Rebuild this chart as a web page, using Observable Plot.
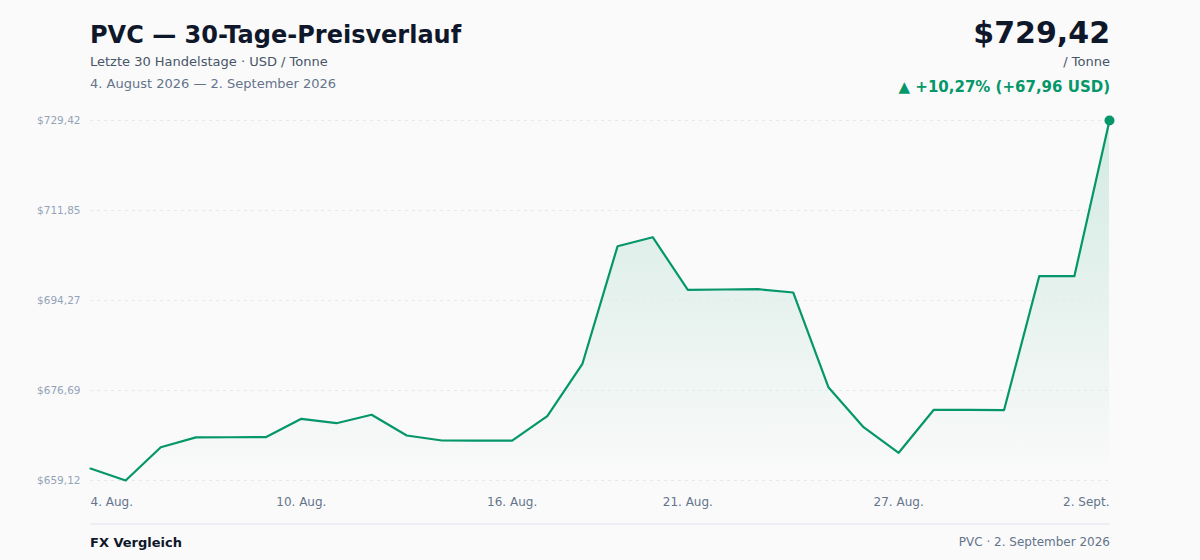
<!DOCTYPE html>
<html>
<head>
<meta charset="utf-8">
<script src="https://cdn.jsdelivr.net/npm/d3@7"></script>
<script src="https://cdn.jsdelivr.net/npm/@observablehq/plot@0.6"></script>
<style>
  html, body { margin: 0; padding: 0; background: #fafafa; }
  body { font-family: "DejaVu Sans", sans-serif; }
  #wrap { position: relative; width: 1200px; height: 560px; overflow: hidden; }
  .t { position: absolute; line-height: 1; white-space: nowrap; }
  #chart { position: absolute; left: 0; top: 100px; }
</style>
</head>
<body>
<div id="wrap">
  <div class="t" style="left:90px; top:22.7px; font-size:24px; font-weight:bold; color:#0f172a;">PVC — 30-Tage-Preisverlauf</div>
  <div class="t" style="left:90px; top:55px; font-size:13px; color:#475569;">Letzte 30 Handelstage · USD / Tonne</div>
  <div class="t" style="left:90px; top:77px; font-size:13px; color:#64748b;">4. August 2026 — 2. September 2026</div>
  <div class="t" style="right:90px; top:18px; font-size:30px; font-weight:bold; color:#0f172a;">$729,42</div>
  <div class="t" style="right:90px; top:55px; font-size:13px; color:#475569;">/ Tonne</div>
  <div class="t" style="right:90px; top:80px; font-size:15px; font-weight:bold; color:#059669;">▲ +10,27% (+67,96 USD)</div>
  <div id="chart"></div>
  <div style="position:absolute; left:90px; width:1020px; top:523px; height:2px; background:#eceef1;"></div>
  <div class="t" style="left:90px; top:535.5px; font-size:13px; font-weight:bold; color:#0f172a;">FX Vergleich</div>
  <div class="t" style="right:90px; top:536px; font-size:12px; color:#64748b;">PVC · 2. September 2026</div>
</div>
<script>
const dates = [
  "2026-08-04","2026-08-05","2026-08-06","2026-08-07","2026-08-08","2026-08-09",
  "2026-08-10","2026-08-11","2026-08-12","2026-08-13","2026-08-14","2026-08-15",
  "2026-08-16","2026-08-17","2026-08-18","2026-08-19","2026-08-20","2026-08-21",
  "2026-08-22","2026-08-23","2026-08-24","2026-08-25","2026-08-26","2026-08-27",
  "2026-08-28","2026-08-29","2026-08-30","2026-08-31","2026-09-01","2026-09-02"
];
const prices = [
  661.46, 659.12, 665.62, 667.55, 667.57, 667.60,
  671.17, 670.31, 671.95, 667.91, 666.93, 666.90,
  666.92, 671.71, 681.91, 704.87, 706.63, 696.36,
  696.42, 696.48, 695.83, 677.34, 669.53, 664.53,
  672.93, 672.93, 672.88, 699.02, 699.02, 729.42
];
const yTicks = [659.12, 676.69, 694.27, 711.85, 729.42];
const xTickDates = ["2026-08-04","2026-08-10","2026-08-16","2026-08-21","2026-08-27","2026-09-02"];
const xTickLabels = ["4. Aug.","10. Aug.","16. Aug.","21. Aug.","27. Aug.","2. Sept."];

const data = dates.map((d, i) => ({date: new Date(d), price: prices[i]}));
const xt = xTickDates.map((d, i) => ({date: new Date(d), label: xTickLabels[i]}));
const yMin = yTicks[0], yMax = yTicks[yTicks.length - 1];
const fmt = v => "$" + v.toFixed(2).replace(".", ",");
const green = "#059669";

const defs = () => {
  const ns = "http://www.w3.org/2000/svg";
  const d = document.createElementNS(ns, "defs");
  const g = document.createElementNS(ns, "linearGradient");
  g.setAttribute("id", "areaGrad");
  g.setAttribute("x1", "0"); g.setAttribute("y1", "0");
  g.setAttribute("x2", "0"); g.setAttribute("y2", "1");
  [["0%", 0.16], ["100%", 0.0]].forEach(([o, a]) => {
    const s = document.createElementNS(ns, "stop");
    s.setAttribute("offset", o);
    s.setAttribute("stop-color", green);
    s.setAttribute("stop-opacity", a);
    g.appendChild(s);
  });
  d.appendChild(g);
  return d;
};

const chart = Plot.plot({
  width: 1200,
  height: 420,
  marginTop: 20,
  marginBottom: 40,
  marginLeft: 90,
  marginRight: 91,
  style: {background: "transparent", fontFamily: "'DejaVu Sans', sans-serif", overflow: "visible"},
  x: {type: "utc", domain: [data[0].date, data[data.length - 1].date], axis: null},
  y: {domain: [yMin, yMax], axis: null},
  marks: [
    defs,
    Plot.areaY(data, {x: "date", y1: () => yMin, y2: "price", fill: "url(#areaGrad)"}),
    Plot.ruleY(yTicks, {stroke: "#e6e8ec", strokeWidth: 1, strokeDasharray: "3,4"}),
    Plot.line(data, {x: "date", y: "price", stroke: green, strokeWidth: 2.2, strokeLinejoin: "round"}),
    Plot.dot(data.slice(-1), {x: "date", y: "price", r: 5, fill: green}),
    Plot.text(yTicks, {y: d => d, text: fmt, frameAnchor: "left", dx: -10, textAnchor: "end", fontSize: 10.5, fill: "#94a3b8"}),
    Plot.text(xt.slice(0, 1), {x: "date", text: "label", frameAnchor: "bottom", dy: 25, textAnchor: "start", fontSize: 12, fill: "#64748b"}),
    Plot.text(xt.slice(1, -1), {x: "date", text: "label", frameAnchor: "bottom", dy: 25, textAnchor: "middle", fontSize: 12, fill: "#64748b"}),
    Plot.text(xt.slice(-1), {x: "date", text: "label", frameAnchor: "bottom", dy: 25, textAnchor: "end", fontSize: 12, fill: "#64748b"})
  ]
});
document.getElementById("chart").appendChild(chart);
</script>
</body>
</html>
